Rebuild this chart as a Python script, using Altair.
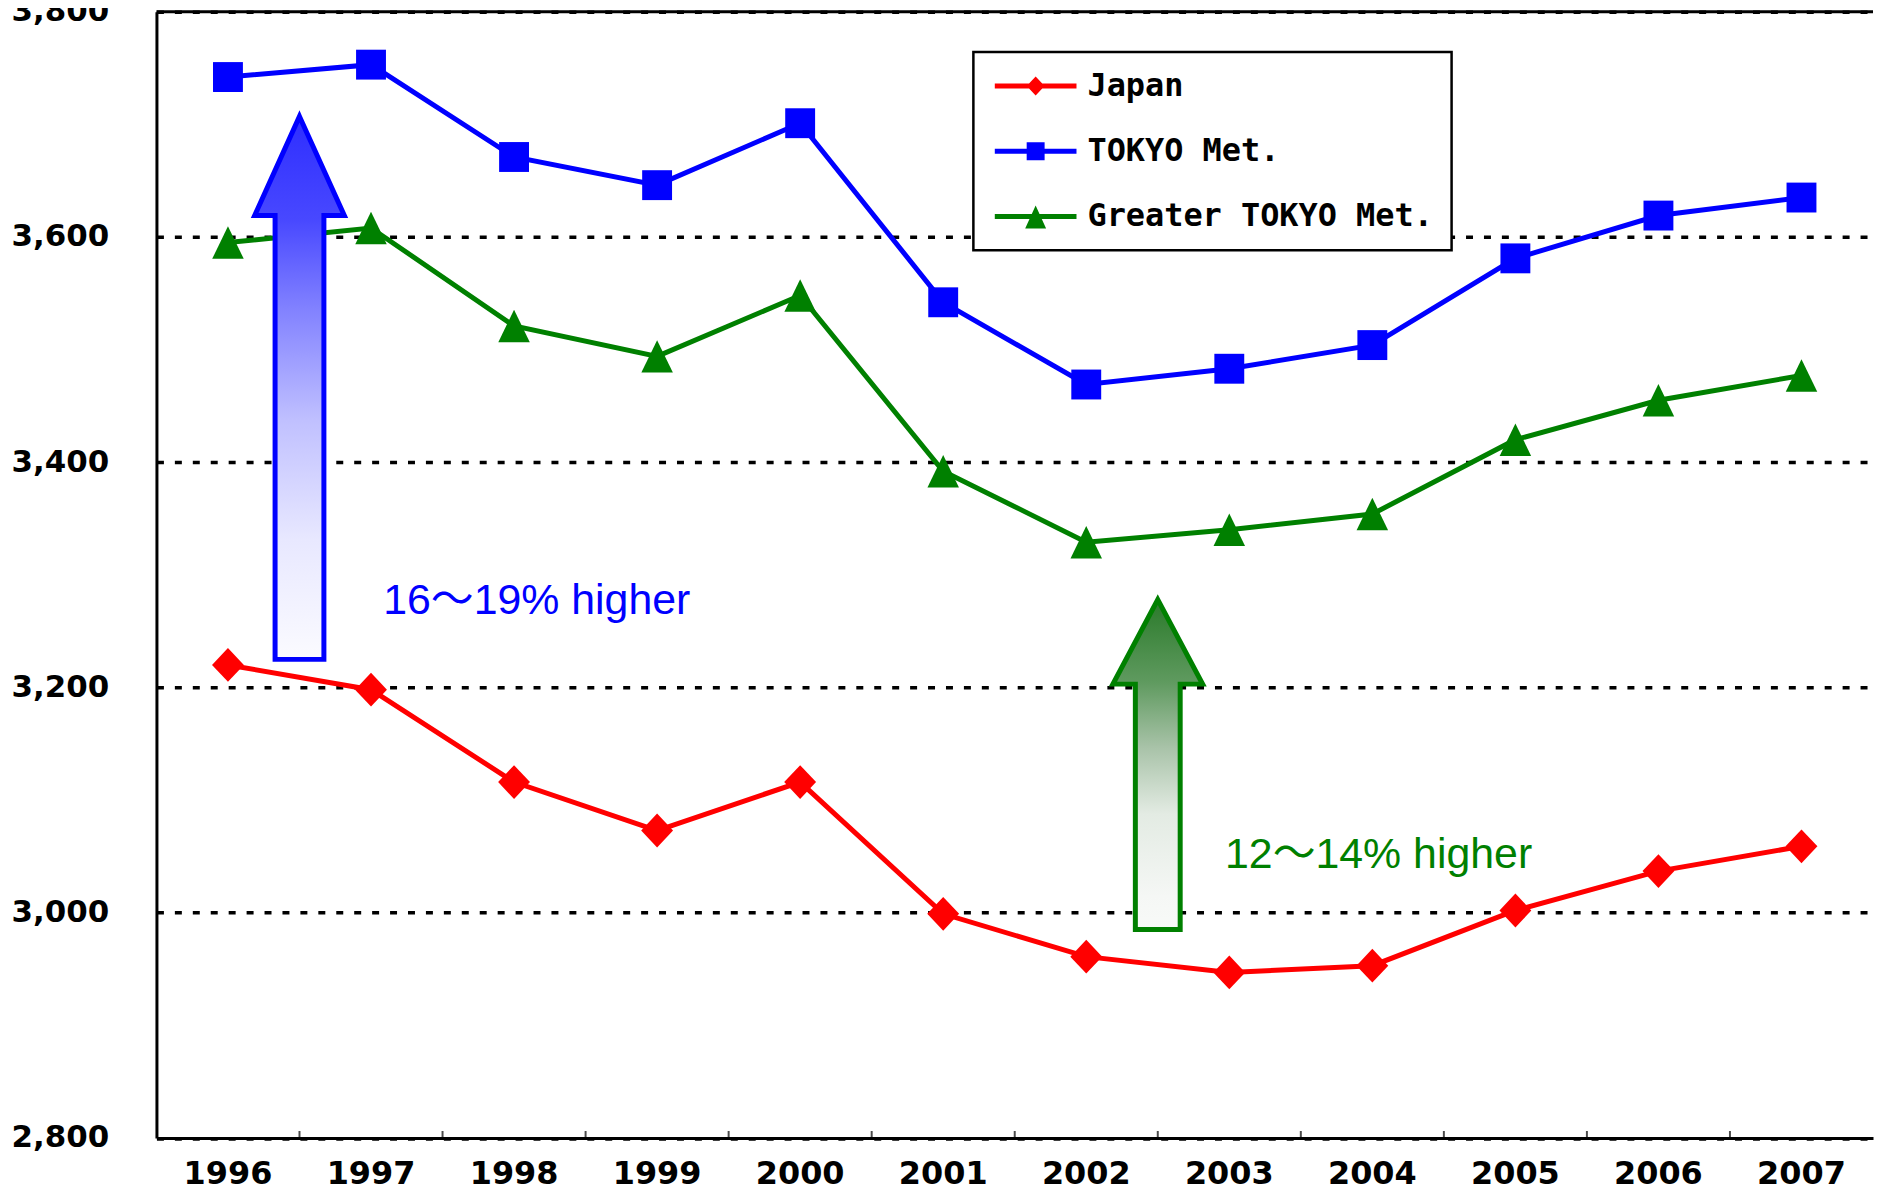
import altair as alt
import pandas as pd

# ---------------- data ----------------
years = [1996, 1997, 1998, 1999, 2000, 2001, 2002, 2003, 2004, 2005, 2006, 2007]
japan = [3220, 3198, 3116, 3073, 3116, 2999, 2961, 2947, 2953, 3002, 3037, 3059]
tokyo = [3742, 3753, 3671, 3646, 3701, 3542, 3469, 3483, 3504, 3581, 3619, 3635]
greater_tokyo = [3595, 3608, 3521, 3494, 3548, 3392, 3329, 3340, 3354, 3420, 3455, 3477]

series_names = ["Japan", "TOKYO Met.", "Greater TOKYO Met."]
series_colors = ["#ff0000", "#0000ff", "#008000"]
y_ticks = [2800, 3000, 3200, 3400, 3600, 3800]

# annotations: arrows stand on the boundary before the given year
arrow_years = [1997, 2003]
arrow_tips = [3707, 3278]
arrow_head_bases = [3619, 3203]
arrow_tails = [3225, 2985]
arrow_texts = ["16～19% higher", "12～14% higher"]
text_years = [1997, 2003]
text_values = [3265, 3040]

# ---------------- layout / style ----------------
Y_MIN, Y_MAX = 2800, 3800
PLOT_W, PLOT_H = 1723, 1130.5
px_per_unit = PLOT_H / (Y_MAX - Y_MIN)

marker_shapes = {
    "Japan": "M0,-1.06L1,0L0,1.06L-1,0Z",
    "TOKYO Met.": "square",
    "Greater TOKYO Met.": "M0,-1.03L1,1.03L-1,1.03Z",
}
marker_sizes = {"Japan": 1024, "TOKYO Met.": 900, "Greater TOKYO Met.": 1000}

LINE = "M-41,-2.5H41V2.5H-41Z "
legend_shapes = [
    LINE + "M0,-9.5L9,0L0,9.5L-9,0Z",
    LINE + "M-9,-9H9V9H-9Z",
    LINE + "M0,-11L10.5,12L-10.5,12Z",
]

arrow_styles = [
    dict(stroke="#0000ff", shaft=24.5, head=45,
         stops=[(0, "#2e2eff"), (0.19, "#4848ff"), (0.35, "#8080ff"),
                (0.56, "#c0c0ff"), (0.78, "#e8e8ff"), (1, "#fbfbff")]),
    dict(stroke="#008000", shaft=22.5, head=45,
         stops=[(0, "#2a7a2a"), (0.25, "#5f9a5f"), (0.45, "#a9c3a9"),
                (0.65, "#e3ebe3"), (0.9, "#f5f7f5"), (1, "#f8faf8")]),
]
text_band_pos = [0.585, 0.47]
text_colors = ["#0000ff", "#008000"]

df = pd.DataFrame({
    "year": years * 3,
    "value": japan + tokyo + greater_tokyo,
    "series": sum([[s] * len(years) for s in series_names], []),
})

x_scale = alt.Scale(type="band", domain=years, paddingInner=0, paddingOuter=0)
y_scale = alt.Scale(domain=[Y_MIN, Y_MAX], nice=False, zero=False)

x_axis = alt.Axis(title=None, labelAngle=0, ticks=False, tickSize=0, labelPadding=21,
                  labelFont="DejaVu Sans", labelFontWeight="bold", labelFontSize=32,
                  labelColor="black", domainColor="black", domainWidth=3, grid=False)
y_axis = alt.Axis(title=None, values=y_ticks, format=",d", ticks=False, tickSize=0,
                  labelPadding=48, labelFont="DejaVu Sans", labelFontWeight="bold",
                  labelFontSize=31, labelColor="black", domainColor="black",
                  domainWidth=3, grid=True, gridColor="black", gridDash=[7, 11],
                  gridWidth=3.5, gridOpacity=1)


def X(band_pos=None):
    if band_pos is None:
        return alt.X("year:O", scale=x_scale, axis=x_axis)
    return alt.X("year:O", scale=x_scale, axis=x_axis, bandPosition=band_pos)


Y = alt.Y("value:Q", scale=y_scale, axis=y_axis)

layers = []

# lines
for name, col in zip(series_names, series_colors):
    layers.append(
        alt.Chart(df).transform_filter(alt.datum.series == name)
        .mark_line(color=col, strokeWidth=5)
        .encode(x=X(), y=Y)
    )

# top frame line
layers.append(
    alt.Chart(pd.DataFrame({"value": [Y_MAX]}))
    .mark_rule(color="black", strokeWidth=3).encode(y=Y)
)

# inward x ticks at band boundaries
tick_df = pd.DataFrame({"year": years[1:], "value": [Y_MIN] * (len(years) - 1)})
layers.append(
    alt.Chart(tick_df).mark_tick(orient="vertical", size=7, thickness=2, color="black", yOffset=-3.5)
    .encode(x=X(0), y=Y)
)

# markers
for name, col in zip(series_names, series_colors):
    layers.append(
        alt.Chart(df).transform_filter(alt.datum.series == name)
        .mark_point(shape=marker_shapes[name], size=marker_sizes[name], filled=True,
                    color=col, opacity=1, strokeWidth=0)
        .encode(x=X(), y=Y)
    )


def arrow_path(tip, head_base, tail, shaft_half, head_half):
    mid = (tip + tail) / 2

    def yy(v):
        return -(v - mid) * px_per_unit

    pts = [(0, yy(tip)), (head_half, yy(head_base)), (shaft_half, yy(head_base)),
           (shaft_half, yy(tail)), (-shaft_half, yy(tail)), (-shaft_half, yy(head_base)),
           (-head_half, yy(head_base))]
    return "M" + "L".join(f"{x:.1f},{y:.1f}" for x, y in pts) + "Z", mid


# arrows
for yr, tip, hb, tail, st in zip(arrow_years, arrow_tips, arrow_head_bases, arrow_tails, arrow_styles):
    path, mid = arrow_path(tip, hb, tail, st["shaft"], st["head"])
    grad = alt.LinearGradient(
        gradient="linear", x1=0, x2=0, y1=0, y2=1,
        stops=[alt.GradientStop(offset=o, color=c) for o, c in st["stops"]])
    layers.append(
        alt.Chart(pd.DataFrame({"year": [yr], "value": [mid]}))
        .mark_point(shape=path, size=4, filled=True, fill=grad, stroke=st["stroke"],
                    strokeWidth=5, opacity=1, fillOpacity=1, strokeOpacity=1)
        .encode(x=X(0), y=Y)
    )

# annotation texts
for yr, val, txt, col, bp in zip(text_years, text_values, arrow_texts, text_colors, text_band_pos):
    layers.append(
        alt.Chart(pd.DataFrame({"year": [yr], "value": [val], "label": [txt]}))
        .mark_text(align="left", baseline="alphabetic", font="Liberation Sans, 'Noto Sans CJK JP'",
                   fontSize=43, color=col)
        .encode(x=X(bp), y=Y, text="label:N")
    )

# legend carrier (draws nothing)
layers.append(
    alt.Chart(df).transform_filter("false")
    .mark_point(filled=True, opacity=1, size=4)
    .encode(
        x=X(), y=Y,
        color=alt.Color("series:N", scale=alt.Scale(domain=series_names, range=series_colors),
                        legend=alt.Legend(orient="none", legendX=820, legendY=40.5, title=None,
                                          symbolSize=4, symbolStrokeWidth=0, symbolOffset=28.5,
                                          labelOffset=36, labelFont="DejaVu Sans Mono",
                                          labelFontWeight="bold", labelFontSize=32,
                                          labelColor="black", labelLimit=0, rowPadding=33.5,
                                          padding=18, strokeColor="black", fillColor="white")),
        shape=alt.Shape("series:N", scale=alt.Scale(domain=series_names, range=legend_shapes)),
    )
)

chart = (
    alt.layer(*layers)
    .properties(width=PLOT_W, height=PLOT_H,
                autosize=alt.AutoSizeParams(type="none"),
                padding={"left": 149, "top": 1.5, "right": 2, "bottom": 54})
    .configure_view(stroke=None)
    .configure_legend(strokeWidth=2.5, cornerRadius=0)
)

chart.save("out.html", embed_options={"renderer": "svg", "actions": False})
